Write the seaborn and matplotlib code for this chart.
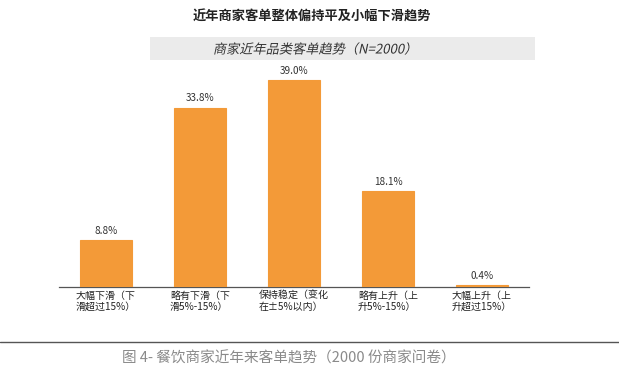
import matplotlib
matplotlib.use("Agg")
import matplotlib.pyplot as plt
import pandas as pd
import seaborn as sns
from matplotlib.patches import Rectangle, PathPatch
from matplotlib.lines import Line2D
from matplotlib.textpath import TextPath
from matplotlib.font_manager import FontProperties
from matplotlib.transforms import Affine2D

# Data
categories = [
    "大幅下滑（下\n滑超过15%）",
    "略有下滑（下\n滑5%-15%）",
    "保持稳定（变化\n在±5%以内）",
    "略有上升（上\n升5%-15%）",
    "大幅上升（上\n升超过15%）",
]
shares = [8.8, 33.8, 39.0, 18.1, 0.4]

title = "近年商家客单整体偏持平及小幅下滑趋势"
subtitle = "商家近年品类客单趋势（N=2000）"
caption = "图 4- 餐饮商家近年来客单趋势（2000 份商家问卷）"

sns.set_theme(style="white")
plt.rcParams["font.family"] = ["Noto Sans CJK SC", "DejaVu Sans"]

df = pd.DataFrame({"cat": categories, "share": shares})

DPI = 100
fig = plt.figure(figsize=(6.19, 3.78), dpi=DPI)
ax = fig.add_axes([59 / 619, 1 - 287 / 378, 470 / 619, 45 * 5.31 / 378])

sns.barplot(data=df, x="cat", y="share", color="#F39A38", saturation=1,
            width=0.55, edgecolor="#F39A38", linewidth=0.8, ax=ax)

ax.set_xlim(-0.5, 4.5)
ax.set_ylim(0, 45)
ax.bar_label(ax.containers[0], fmt="%.1f%%", padding=3, fontsize=7.2, color="#333333")

for s in ["top", "right", "left"]:
    ax.spines[s].set_visible(False)
ax.spines["bottom"].set_color("#555555")
ax.spines["bottom"].set_linewidth(0.9)
ax.spines["bottom"].set_zorder(0.5)
ax.set_yticks([])
ax.set_xlabel("")
ax.set_ylabel("")
ax.tick_params(axis="x", length=0, pad=3, labelsize=7.2, colors="#222222")
for lbl in ax.get_xticklabels():
    lbl.set_multialignment("left")
    lbl.set_linespacing(1.1)
    lbl.set_fontweight("medium")

# title
fig.text(312 / 619, 1 - 17 / 378, title, ha="center", va="center",
         fontsize=9.5, fontweight="bold", color="#222222")

# grey banner with slanted subtitle (CJK font has no italic, so skew the glyph path)
fig.patches.append(Rectangle((150 / 619, 1 - 60 / 378), 385 / 619, 23 / 378,
                             transform=fig.transFigure, facecolor="#EBEBEB",
                             edgecolor="none", zorder=0))
tp = TextPath((0, 0), subtitle, size=9.5, prop=FontProperties(family="Noto Sans CJK SC"))
ext = tp.get_extents()
px = DPI / 72
cx, cy = 312, 378 - 48.5
tr = (Affine2D().translate(-(ext.x0 + ext.x1) / 2, -(ext.y0 + ext.y1) / 2)
      .skew_deg(12, 0).scale(px).translate(cx, cy))
fig.patches.append(PathPatch(tp, transform=tr, facecolor="#333333",
                             edgecolor="none", zorder=2))

# bottom rule and caption
fig.lines.append(Line2D([0, 1], [1 - 342 / 378] * 2, transform=fig.transFigure,
                        color="#555555", linewidth=1))
fig.text(289 / 619, 1 - 358 / 378, caption, ha="center", va="center",
         fontsize=10.5, color="#8a8a8a", fontweight="light")

fig.savefig("out.png", dpi=DPI)
